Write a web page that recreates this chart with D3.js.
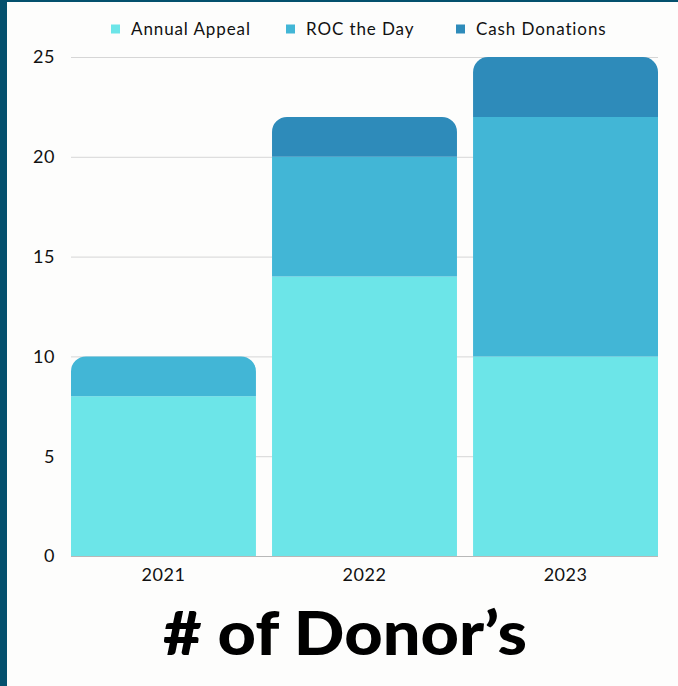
<!DOCTYPE html>
<html>
<head>
<meta charset="utf-8">
<script src="https://cdn.jsdelivr.net/npm/d3@7"></script>
<style>
  body { margin: 0; background: #fdfdfc; }
  svg { display: block; }
</style>
</head>
<body>
<div id="root"></div>
<script>
// data
var years = ["2021", "2022", "2023"];
var seriesNames = ["Annual Appeal", "ROC the Day", "Cash Donations"];
var annualAppeal = [8, 14, 10];
var rocTheDay = [2, 6, 12];
var cashDonations = [0, 2, 3];
var yTicks = [0, 5, 10, 15, 20, 25];

var colors = ["#6ce5e8", "#42b6d6", "#2e8bba"];

var w = 678, h = 686;
var rows = years.map(function(y, i) {
  return { year: y, "Annual Appeal": annualAppeal[i], "ROC the Day": rocTheDay[i], "Cash Donations": cashDonations[i] };
});
var stacked = d3.stack().keys(seriesNames)(rows);

var svg = d3.select("#root").append("svg").attr("width", w).attr("height", h);

// frame strips from the slide background
svg.append("rect").attr("x", 0).attr("y", 0).attr("width", 7).attr("height", h).attr("fill", "#04506d");
svg.append("rect").attr("x", 0).attr("y", 0).attr("width", w).attr("height", 2).attr("fill", "#04506d");

var x = d3.scaleBand().domain(years).range([71, 658]).paddingInner(0.08).paddingOuter(0);
var y = d3.scaleLinear().domain([0, 25]).range([556, 57]);

// gridlines
svg.append("g").selectAll("line").data(yTicks.filter(function(d) { return d > 0; })).enter().append("line")
  .attr("x1", 71).attr("x2", 658)
  .attr("y1", function(d) { return y(d) + 0.5; }).attr("y2", function(d) { return y(d) + 0.5; })
  .attr("stroke", "#d6d6d6").attr("stroke-width", 1);

// baseline
svg.append("line").attr("x1", 71).attr("x2", 658).attr("y1", 556.5).attr("y2", 556.5)
  .attr("stroke", "#b8b8b8").attr("stroke-width", 1);

// y labels
svg.append("g").selectAll("text").data(yTicks).enter().append("text")
  .attr("x", 55).attr("y", function(d) { return y(d); }).attr("dy", "0.36em")
  .attr("text-anchor", "end").attr("font-family", "Lato").attr("font-size", 18)
  .attr("letter-spacing", 0.5).attr("fill", "#111")
  .text(function(d) { return d; });

// x labels
svg.append("g").selectAll("text").data(years).enter().append("text")
  .attr("x", function(d) { return x(d) + x.bandwidth() / 2; }).attr("y", 581)
  .attr("text-anchor", "middle").attr("font-family", "Lato").attr("font-size", 18)
  .attr("letter-spacing", 0.5).attr("fill", "#111")
  .text(function(d) { return d; });

// top segment gets rounded corners
function topOf(i) {
  var t = 0;
  stacked.forEach(function(s, k) { if (s[i][1] > s[i][0]) t = k; });
  return t;
}
function segPath(x0, x1, y0, y1, rounded) {
  var r = rounded ? 15 : 0;
  var p = d3.path();
  p.moveTo(x0, y0);
  p.lineTo(x0, y1 + r);
  if (r) p.arcTo(x0, y1, x0 + r, y1, r);
  p.lineTo(x1 - r, y1);
  if (r) p.arcTo(x1, y1, x1, y1 + r, r);
  p.lineTo(x1, y0);
  p.closePath();
  return p.toString();
}

svg.append("g").selectAll("g").data(stacked).enter().append("g")
  .attr("fill", function(d, k) { return colors[k]; })
  .selectAll("path").data(function(d, k) { return d.map(function(v, i) { return { v: v, i: i, k: k }; }); })
  .enter().filter(function(d) { return d.v[1] > d.v[0]; }).append("path")
  .attr("d", function(d) {
    var x0 = x(years[d.i]), x1 = x0 + x.bandwidth();
    return segPath(x0, x1, y(d.v[0]), y(d.v[1]), topOf(d.i) === d.k);
  });

// legend
var legendX = [111, 286, 456];
var lg = svg.append("g").selectAll("g").data(seriesNames).enter().append("g")
  .attr("transform", function(d, i) { return "translate(" + legendX[i] + ",29)"; });
lg.append("rect").attr("x", 0).attr("y", -4.5).attr("width", 9).attr("height", 9)
  .attr("fill", function(d, i) { return colors[i]; });
lg.append("text").attr("x", 20).attr("dy", "0.36em")
  .attr("font-family", "Lato").attr("font-size", 17).attr("letter-spacing", 0.9).attr("fill", "#111")
  .text(function(d) { return d; });

// title
svg.append("text").attr("x", 345).attr("y", 655).attr("text-anchor", "middle")
  .attr("font-family", "Lato").attr("font-weight", 900).attr("font-size", 60)
  .attr("textLength", 364).attr("lengthAdjust", "spacingAndGlyphs").attr("fill", "#000")
  .text("# of Donor\u2019s");
</script>
</body>
</html>
